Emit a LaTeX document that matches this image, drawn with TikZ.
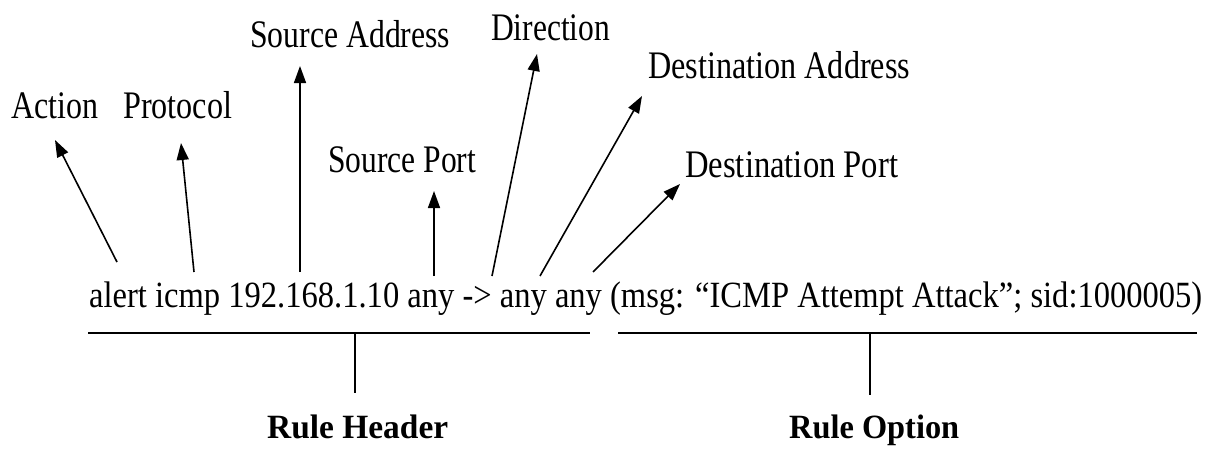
\documentclass[tikz,border=0pt]{standalone}
\usepackage{fontspec}
\setmainfont{Liberation Serif}
\usetikzlibrary{arrows.meta}
\newcommand{\fitw}[2]{\resizebox{#1pt}{\height}{#2}}
\tikzset{
  lbl/.style={anchor=base west, inner sep=0pt, font=\fontsize{39}{42}\selectfont},
  maintxt/.style={anchor=base west, inner sep=0pt, font=\fontsize{37}{40}\selectfont},
  part/.style={anchor=base west, inner sep=0pt, font=\fontsize{34}{37}\selectfont\bfseries},
  ptr/.style={line width=1.6pt, -{Triangle[length=17pt,width=12pt]}},
  rulebar/.style={line width=2.4pt},
  tick/.style={line width=1.2pt}
}
\begin{document}
\begin{tikzpicture}[x=1pt,y=-1pt]
\useasboundingbox[fill=white] (0,0) rectangle (1214,452);
% labels
\node[lbl] (act) at (11,118) {\fitw{87}{Action}};
\node[lbl] (pro) at (123,118) {\fitw{109}{Protocol}};
\node[lbl] (sad) at (250,48) {\fitw{200}{Source Address}};
\node[lbl] (dir) at (491,41) {\fitw{119}{Direction}};
\node[lbl] (spo) at (328,172) {\fitw{148}{Source Port}};
\node[lbl] (dad) at (648,78) {\fitw{262}{Destination Address}};
\node[lbl] (dpo) at (685,177) {\fitw{213}{Destination Port}};
% main rule
\node[maintxt] (rule) at (89,307) {\fitw{1113}{alert icmp 192.168.1.10 any -> any any (msg: “ICMP Attempt Attack”; sid:1000005)}};
% part labels
\node[part] (rh) at (267,438) {\fitw{181}{Rule Header}};
\node[part] (ro) at (789,438) {\fitw{170}{Rule Option}};
% arrow ends
\coordinate (a1) at (117,262); \coordinate (t1) at (55,140);
\coordinate (a2) at (194,272); \coordinate (t2) at (181,143);
\coordinate (a3) at (300,272); \coordinate (t3) at (300,66);
\coordinate (a4) at (434,276); \coordinate (t4) at (434,191);
\coordinate (a5) at (492,276); \coordinate (t5) at (537,54);
\coordinate (a6) at (540,276); \coordinate (t6) at (642,96);
\coordinate (a7) at (593,272); \coordinate (t7) at (680,184);
\draw[ptr] (a1) -- (t1);
\draw[ptr] (a2) -- (t2);
\draw[ptr] (a3) -- (t3);
\draw[ptr] (a4) -- (t4);
\draw[ptr] (a5) -- (t5);
\draw[ptr] (a6) -- (t6);
\draw[ptr] (a7) -- (t7);
% bars
\coordinate (hl) at (88,333); \coordinate (hr) at (590,333);
\coordinate (ol) at (618,333); \coordinate (or) at (1197,333);
\coordinate (hm) at (355,333); \coordinate (hb) at (355,393);
\coordinate (om) at (870,333); \coordinate (ob) at (870,395);
\draw[rulebar] (hl) -- (hr);
\draw[rulebar] (ol) -- (or);
\draw[tick] (hm) -- (hb);
\draw[tick] (om) -- (ob);
\end{tikzpicture}
\end{document}
